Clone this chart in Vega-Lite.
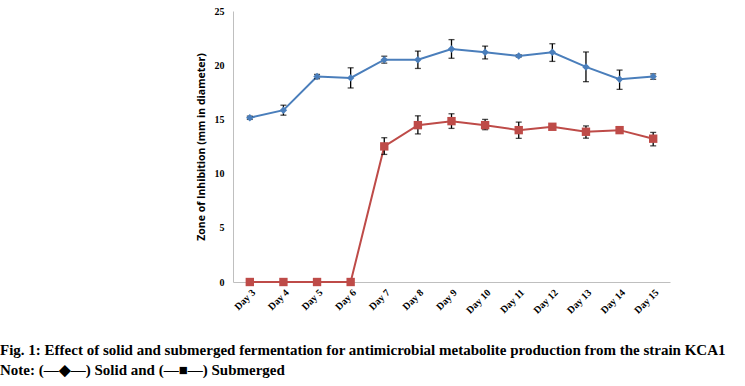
{
  "$schema": "https://vega.github.io/schema/vega-lite/v6.json",
  "width": 437,
  "height": 271,
  "autosize": {"type": "none"},
  "padding": {"left": 233, "top": 11, "right": 75, "bottom": 104},
  "background": "white",
  "config": {"view": {"stroke": null}},
  "title": {
    "text": ["Fig. 1: Effect of solid and submerged fermentation for antimicrobial metabolite production from the strain KCA1", "Note: (—◆—) Solid and (—■—) Submerged"],
    "orient": "bottom",
    "anchor": "start",
    "frame": "group",
    "dx": -233,
    "offset": 28,
    "font": "Liberation Serif",
    "fontSize": 15,
    "fontWeight": "bold",
    "lineHeight": 20,
    "color": "black"
  },
  "data": {
    "values": [
      {"day": "Day 3", "type": "Solid", "value": 15.15, "lo": 15.0, "hi": 15.3},
      {"day": "Day 4", "type": "Solid", "value": 15.85, "lo": 15.39, "hi": 16.31},
      {"day": "Day 5", "type": "Solid", "value": 18.95, "lo": 18.75, "hi": 19.15},
      {"day": "Day 6", "type": "Solid", "value": 18.83, "lo": 17.9, "hi": 19.76},
      {"day": "Day 7", "type": "Solid", "value": 20.51, "lo": 20.19, "hi": 20.83},
      {"day": "Day 8", "type": "Solid", "value": 20.51, "lo": 19.7, "hi": 21.3},
      {"day": "Day 9", "type": "Solid", "value": 21.5, "lo": 20.64, "hi": 22.36},
      {"day": "Day 10", "type": "Solid", "value": 21.19, "lo": 20.58, "hi": 21.76},
      {"day": "Day 11", "type": "Solid", "value": 20.85, "lo": 20.75, "hi": 20.95},
      {"day": "Day 12", "type": "Solid", "value": 21.19, "lo": 20.35, "hi": 21.98},
      {"day": "Day 13", "type": "Solid", "value": 19.84, "lo": 18.48, "hi": 21.22},
      {"day": "Day 14", "type": "Solid", "value": 18.7, "lo": 17.77, "hi": 19.55},
      {"day": "Day 15", "type": "Solid", "value": 18.95, "lo": 18.7, "hi": 19.2},
      {"day": "Day 3", "type": "Submerged", "value": 0, "lo": null, "hi": null},
      {"day": "Day 4", "type": "Submerged", "value": 0, "lo": null, "hi": null},
      {"day": "Day 5", "type": "Submerged", "value": 0, "lo": null, "hi": null},
      {"day": "Day 6", "type": "Submerged", "value": 0, "lo": null, "hi": null},
      {"day": "Day 7", "type": "Submerged", "value": 12.51, "lo": 11.77, "hi": 13.31},
      {"day": "Day 8", "type": "Submerged", "value": 14.47, "lo": 13.66, "hi": 15.33},
      {"day": "Day 9", "type": "Submerged", "value": 14.84, "lo": 14.17, "hi": 15.52},
      {"day": "Day 10", "type": "Submerged", "value": 14.47, "lo": 14.05, "hi": 15.0},
      {"day": "Day 11", "type": "Submerged", "value": 14.01, "lo": 13.25, "hi": 14.75},
      {"day": "Day 12", "type": "Submerged", "value": 14.32, "lo": 14.18, "hi": 14.46},
      {"day": "Day 13", "type": "Submerged", "value": 13.86, "lo": 13.27, "hi": 14.4},
      {"day": "Day 14", "type": "Submerged", "value": 14.01, "lo": 13.9, "hi": 14.12},
      {"day": "Day 15", "type": "Submerged", "value": 13.22, "lo": 12.56, "hi": 13.8}
    ]
  },
  "encoding": {
    "x": {
      "field": "day",
      "type": "ordinal",
      "sort": null,
      "scale": {"type": "point", "padding": 0.5},
      "axis": {
        "title": null,
        "labelAngle": -45,
        "labelFont": "Liberation Serif",
        "labelFontWeight": "bold",
        "labelFontSize": 10,
        "labelColor": "black",
        "labelPadding": 5,
        "ticks": false,
        "domainColor": "#BFBFBF",
        "domainWidth": 1
      }
    }
  },
  "layer": [
    {
      "mark": {"type": "line", "strokeWidth": 2},
      "encoding": {
        "y": {
          "field": "value",
          "type": "quantitative",
          "scale": {"domain": [0, 25], "nice": false},
          "axis": {
            "title": "Zone of Inhibition (mm in diameter)",
            "titleFont": "Open Sans",
            "titleFontSize": 10.5,
            "titleFontWeight": "bold",
            "titleColor": "black",
            "titlePadding": 8,
            "values": [0, 5, 10, 15, 20, 25],
            "grid": false,
            "ticks": false,
            "labelFont": "Liberation Serif",
            "labelFontWeight": "bold",
            "labelFontSize": 10,
            "labelColor": "black",
            "labelPadding": 9,
            "domainColor": "#BFBFBF"
          }
        },
        "color": {
          "field": "type",
          "type": "nominal",
          "scale": {"domain": ["Solid", "Submerged"], "range": ["#4A7EBB", "#BE4B48"]},
          "legend": null
        }
      }
    },
    {
      "transform": [{"filter": "datum.lo != null"}],
      "mark": {"type": "rule", "color": "black", "strokeWidth": 1.3},
      "encoding": {
        "y": {"field": "lo", "type": "quantitative"},
        "y2": {"field": "hi"}
      }
    },
    {
      "transform": [{"filter": "datum.lo != null"}],
      "mark": {"type": "tick", "color": "black", "size": 6, "thickness": 1.3, "orient": "horizontal"},
      "encoding": {"y": {"field": "lo", "type": "quantitative"}}
    },
    {
      "transform": [{"filter": "datum.lo != null"}],
      "mark": {"type": "tick", "color": "black", "size": 6, "thickness": 1.3, "orient": "horizontal"},
      "encoding": {"y": {"field": "hi", "type": "quantitative"}}
    },
    {
      "transform": [{"filter": "datum.type == 'Solid'"}],
      "mark": {"type": "point", "shape": "diamond", "filled": true, "size": 55, "opacity": 1, "color": "#4A7EBB"},
      "encoding": {"y": {"field": "value", "type": "quantitative"}}
    },
    {
      "transform": [{"filter": "datum.type == 'Submerged'"}],
      "mark": {"type": "point", "shape": "square", "filled": true, "size": 70, "opacity": 1, "color": "#BE4B48"},
      "encoding": {"y": {"field": "value", "type": "quantitative"}}
    }
  ]
}
